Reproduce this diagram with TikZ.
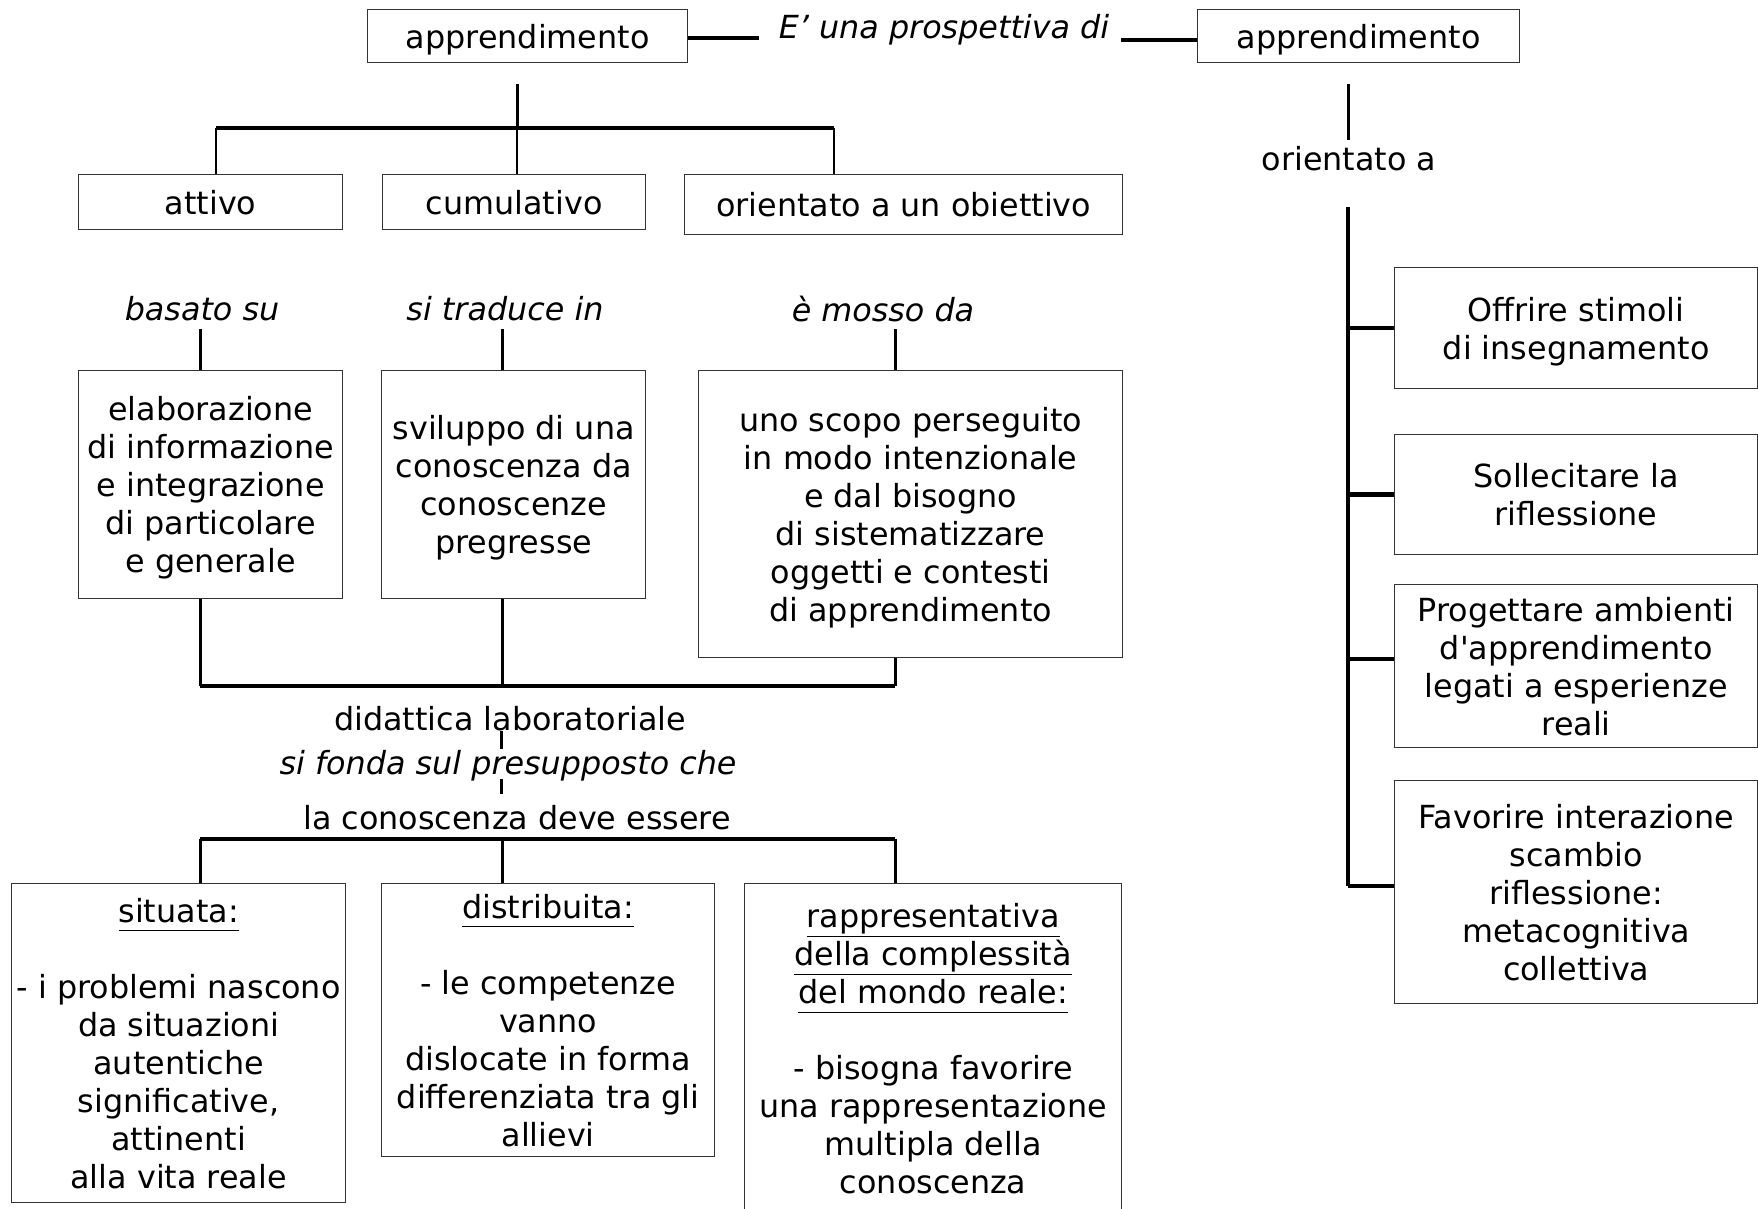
\documentclass[tikz,border=0pt]{standalone}
\usepackage{fontspec}
\setmainfont{DejaVu Sans}[Ligatures=TeXOff]
\newcommand\diagfont{\fontsize{31.8pt}{38pt}\selectfont}
% underline with a uniform depth, so every underline sits at the same offset
\newcommand\ul[1]{\underline{#1\vphantom{p}}}
\begin{document}
\begin{tikzpicture}[x=1pt,y=-1pt,
  box/.style={draw=black!80, line width=1.3pt, align=center, inner sep=0pt,
              text depth=0pt, anchor=north west, font=\diagfont},
  lbl/.style={align=center, inner sep=0pt, font=\diagfont},
  itlbl/.style={lbl, font=\diagfont\itshape},
  bar/.style={line width=4.5pt},
  stem/.style={line width=3pt},
  twig/.style={line width=1.5pt}]
\useasboundingbox (0,0) rectangle (1758,1208);

% ---------- top row ----------
\node[box, minimum width=320pt, minimum height=53pt] (A1) at (367,9) {apprendimento};
\node[box, minimum width=322pt, minimum height=53pt] (A2) at (1197,9) {apprendimento};
\node[itlbl] (persp) at (944,30) {E’ una prospettiva di};
\coordinate (pl) at (759,38);
\coordinate (pr) at (1121,40);
\draw[bar] (A1.east |- pl) -- (pl);
\draw[bar] (pr) -- (pr -| A2.west);

% ---------- first level: qualities ----------
\node[box, minimum width=264pt, minimum height=55pt] (att) at (78,174) {attivo};
\node[box, minimum width=263pt, minimum height=55pt] (cum) at (382,174) {cumulativo};
\node[box, minimum width=438pt, minimum height=60pt] (obi) at (684,174) {orientato a un obiettivo};

\coordinate (s1) at (517,84);
\coordinate (j1) at (517,128);
\coordinate (jL) at (216,128);
\coordinate (jR) at (834,128);
\draw[stem] (s1) -- (j1);
\draw[bar] (jL) -- (jR);
\draw[twig] (jL) -- (jL |- att.north);
\draw[twig] (j1) -- (j1 |- cum.north);
\draw[twig] (jR) -- (jR |- obi.north);

% ---------- second level ----------
\node[itlbl] (lb1) at (202,309) {basato su};
\node[itlbl] (lb2) at (505,309) {si traduce in};
\node[itlbl] (lb3) at (883,309) {è mosso da};

\node[box, minimum width=264pt, minimum height=228pt] (elab) at (78,370)
  {elaborazione\\di informazione\\e integrazione\\di particolare\\e generale};
\node[box, minimum width=264pt, minimum height=228pt] (svil) at (381,370)
  {sviluppo di una\\conoscenza da\\conoscenze\\pregresse};
\node[box, minimum width=424pt, minimum height=287pt] (scopo) at (698,370)
  {uno scopo perseguito\\in modo intenzionale\\e dal bisogno\\di sistematizzare\\oggetti e contesti\\di apprendimento};

\coordinate (m1) at (200,686);
\coordinate (m2) at (502,686);
\coordinate (m3) at (895,686);
\draw[stem] (m1 |- 0,329) -- (m1 |- elab.north);
\draw[stem] (m2 |- 0,329) -- (m2 |- svil.north);
\draw[stem] (m3 |- 0,329) -- (m3 |- scopo.north);
\draw[stem] (m1 |- elab.south) -- (m1);
\draw[stem] (m2 |- svil.south) -- (m2);
\draw[stem] (m3 |- scopo.south) -- (m3);
\draw[bar] (m1) -- (m3);

% ---------- didattica laboratoriale ----------
\node[lbl] (dl) at (510,719) {didattica laboratoriale};
\node[itlbl] (sf) at (508,766) {si fonda sul presupposto che};
\node[lbl] (lc) at (517,818) {la conoscenza deve essere};
\coordinate (k1) at (501,731);
\coordinate (k2) at (501,749);
\coordinate (k3) at (501,779);
\coordinate (k4) at (501,794);
\draw[stem] (k1) -- (k2);
\draw[stem] (k3) -- (k4);

% ---------- third level ----------
\node[box, minimum width=334pt, minimum height=319pt] (sit) at (11,883)
  {\ul{situata:}\\[38pt]- i problemi nascono\\da situazioni\\autentiche\\significative,\\attinenti\\alla vita reale};
\node[box, minimum width=333pt, minimum height=273pt] (dis) at (381,883)
  {\ul{distribuita:}\\[38pt]- le competenze\\vanno\\dislocate in forma\\differenziata tra gli\\allievi};
\node[box, minimum width=377pt, minimum height=330pt] (rap) at (744,883)
  {\ul{rappresentativa}\\\ul{della complessità}\\\ul{del mondo reale:}\\[38pt]- bisogna favorire\\una rappresentazione\\multipla della\\conoscenza};

\coordinate (n1) at (200,839);
\coordinate (n2) at (502,839);
\coordinate (n3) at (895,839);
\draw[bar] (n1) -- (n3);
\draw[stem] (n1) -- (n1 |- sit.north);
\draw[stem] (n2) -- (n2 |- dis.north);
\draw[stem] (n3) -- (n3 |- rap.north);

% ---------- right branch ----------
\node[lbl] (ora) at (1349,159) {orientato a};
\coordinate (r0) at (1348,84);
\coordinate (r1) at (1348,140);
\coordinate (r2) at (1348,207);
\coordinate (r3) at (1348,886);
\draw[stem] (r0) -- (r1);

\node[box, minimum width=363pt, minimum height=121pt] (off) at (1394,267)
  {Offrire stimoli\\di insegnamento};
\node[box, minimum width=363pt, minimum height=120pt] (sol) at (1394,434)
  {Sollecitare la\\riflessione};
\node[box, minimum width=363pt, minimum height=163pt] (pro) at (1394,584)
  {Progettare ambienti\\d'apprendimento\\legati a esperienze\\reali};
\node[box, minimum width=363pt, minimum height=223pt] (fav) at (1394,780)
  {Favorire interazione\\scambio\\riflessione:\\metacognitiva\\collettiva};

\draw[bar] (r2) -- (r3);
\draw[bar] (r2 |- off.west) -- (off.west);
\draw[bar] (r2 |- sol.west) -- (sol.west);
\draw[bar] ([yshift=7pt]pro.west -| r2) -- ([yshift=7pt]pro.west);
\draw[bar] (r3) -- (r3 -| fav.west);
\end{tikzpicture}
\end{document}
